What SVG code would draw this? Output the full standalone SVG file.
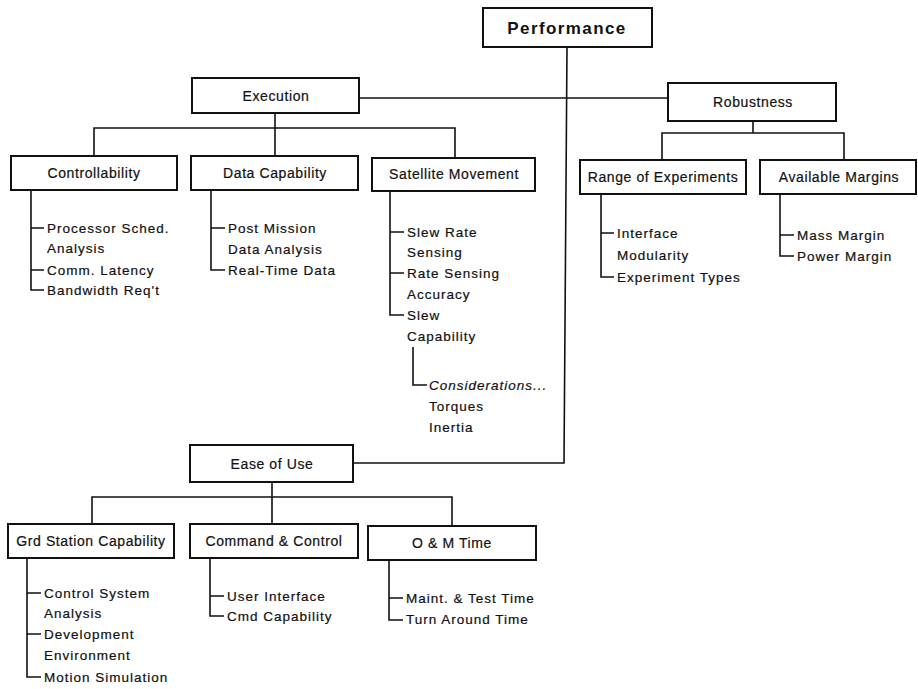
<svg xmlns="http://www.w3.org/2000/svg" width="918" height="689" viewBox="0 0 918 689">
  <style>
    .box { fill: #fff; stroke: #111; stroke-width: 2; }
    .ln { fill: none; stroke: #111; stroke-width: 1.6; }
    text { font-family: "Liberation Sans", Arial, Helvetica, sans-serif; fill: #111; stroke: #111; stroke-width: 0.2; }
    .lbl { font-size: 14px; letter-spacing: 0.6px; text-anchor: middle; }
    .title { font-size: 17px; font-weight: bold; letter-spacing: 1.4px; text-anchor: middle; stroke-width: 0; }
    .item { font-size: 13.5px; letter-spacing: 1px; }
    .it { font-style: italic; }
  </style>
  <rect width="918" height="689" fill="#fff"/>

  <!-- hierarchy connectors -->
  <g id="connectors">
    <!-- Performance trunk down to Ease of Use -->
    <path class="ln" d="M567,47 L564,463 H353"/>
    <!-- Execution to Robustness -->
    <path class="ln" d="M359,98 H668"/>
    <!-- Execution fan-out -->
    <path class="ln" d="M275,113 V128 M94,156 V128 H455 V158 M275,128 V156"/>
    <!-- Robustness fan-out -->
    <path class="ln" d="M753,121 V133 M662,160 V133 H844 V160"/>
    <!-- Ease of Use fan-out -->
    <path class="ln" d="M272,482 V497 M92,524 V497 H452 V526 M272,497 V524"/>

    <!-- Controllability items -->
    <path class="ln" d="M31,190 V290 H44 M31,228 H44 M31,270 H44"/>
    <!-- Data Capability items -->
    <path class="ln" d="M211,190 V270 H225 M211,228 H225"/>
    <!-- Satellite Movement items -->
    <path class="ln" d="M390,191 V315 H404 M390,232 H404 M390,273 H404"/>
    <path class="ln" d="M413,347 V385 H427"/>
    <!-- Range of Experiments items -->
    <path class="ln" d="M601,194 V277 H614 M601,233 H614"/>
    <!-- Available Margins items -->
    <path class="ln" d="M780,194 V256 H794 M780,235 H794"/>
    <!-- Grd Station Capability items -->
    <path class="ln" d="M27,558 V677 H41 M27,593 H41 M27,634 H41"/>
    <!-- Command & Control items -->
    <path class="ln" d="M210,558 V616 H224 M210,596 H224"/>
    <!-- O & M Time items -->
    <path class="ln" d="M389,560 V620 H403 M389,598 H403"/>
  </g>

  <g id="performance">
    <rect class="box" x="483" y="8" width="169" height="39"/>
    <text class="title" x="567" y="34">Performance</text>
  </g>

  <g id="execution">
    <rect class="box" x="192" y="78" width="167" height="35"/>
    <text class="lbl" x="276" y="101">Execution</text>
  </g>

  <g id="robustness">
    <rect class="box" x="668" y="83" width="168" height="38"/>
    <text class="lbl" x="753" y="107">Robustness</text>
  </g>

  <g id="ease-of-use">
    <rect class="box" x="190" y="445" width="163" height="37"/>
    <text class="lbl" x="272" y="469">Ease of Use</text>
  </g>

  <g id="controllability">
    <rect class="box" x="11" y="156" width="166" height="34"/>
    <text class="lbl" x="94" y="178">Controllability</text>
    <text class="item" x="47" y="233">Processor Sched.</text>
    <text class="item" x="47" y="253">Analysis</text>
    <text class="item" x="47" y="275">Comm. Latency</text>
    <text class="item" x="47" y="295">Bandwidth Req't</text>
  </g>

  <g id="data-capability">
    <rect class="box" x="191" y="156" width="167" height="34"/>
    <text class="lbl" x="275" y="178">Data Capability</text>
    <text class="item" x="228" y="233">Post Mission</text>
    <text class="item" x="228" y="254">Data Analysis</text>
    <text class="item" x="228" y="275">Real-Time Data</text>
  </g>

  <g id="satellite-movement">
    <rect class="box" x="372" y="158" width="163" height="33"/>
    <text class="lbl" x="454" y="179">Satellite Movement</text>
    <text class="item" x="407" y="237">Slew Rate</text>
    <text class="item" x="407" y="257">Sensing</text>
    <text class="item" x="407" y="278">Rate Sensing</text>
    <text class="item" x="407" y="299">Accuracy</text>
    <text class="item" x="407" y="320">Slew</text>
    <text class="item" x="407" y="341">Capability</text>
    <text class="item it" x="429" y="390">Considerations...</text>
    <text class="item" x="429" y="411">Torques</text>
    <text class="item" x="429" y="432">Inertia</text>
  </g>

  <g id="range-of-experiments">
    <rect class="box" x="580" y="160" width="166" height="34"/>
    <text class="lbl" x="663" y="182">Range of Experiments</text>
    <text class="item" x="617" y="238">Interface</text>
    <text class="item" x="617" y="260">Modularity</text>
    <text class="item" x="617" y="282">Experiment Types</text>
  </g>

  <g id="available-margins">
    <rect class="box" x="760" y="160" width="156" height="34"/>
    <text class="lbl" x="839" y="182">Available Margins</text>
    <text class="item" x="797" y="240">Mass Margin</text>
    <text class="item" x="797" y="261">Power Margin</text>
  </g>

  <g id="grd-station-capability">
    <rect class="box" x="8" y="524" width="166" height="34"/>
    <text class="lbl" x="91" y="546">Grd Station Capability</text>
    <text class="item" x="44" y="598">Control System</text>
    <text class="item" x="44" y="618">Analysis</text>
    <text class="item" x="44" y="639">Development</text>
    <text class="item" x="44" y="660">Environment</text>
    <text class="item" x="44" y="682">Motion Simulation</text>
  </g>

  <g id="command-and-control">
    <rect class="box" x="190" y="524" width="168" height="34"/>
    <text class="lbl" x="274" y="546">Command &amp; Control</text>
    <text class="item" x="227" y="601">User Interface</text>
    <text class="item" x="227" y="621">Cmd Capability</text>
  </g>

  <g id="o-and-m-time">
    <rect class="box" x="368" y="526" width="168" height="34"/>
    <text class="lbl" x="452" y="548">O &amp; M Time</text>
    <text class="item" x="406" y="603">Maint. &amp; Test Time</text>
    <text class="item" x="406" y="624">Turn Around Time</text>
  </g>
</svg>
